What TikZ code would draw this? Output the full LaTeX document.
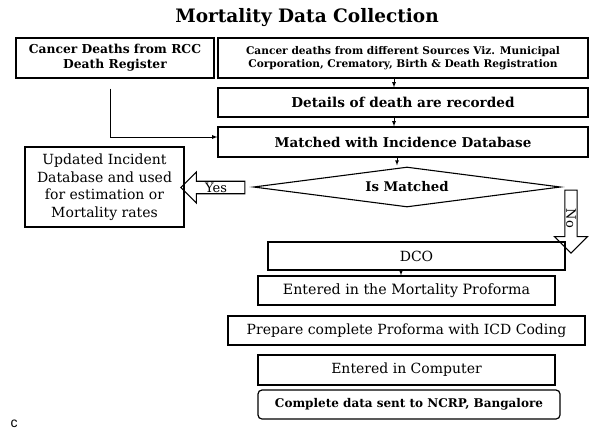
\documentclass[tikz,border=0pt]{standalone}
\usepackage{fontspec}
\setmainfont{DejaVu Serif}
\setsansfont{Liberation Sans}
\usetikzlibrary{shapes.geometric,shapes.arrows}

\tikzset{
  box/.style={draw, line width=1.2pt, inner sep=0pt, align=center},
  rbox/.style={box, rounded corners=4pt},
  decision/.style={draw, diamond, line width=1.1pt, inner sep=0pt, aspect=7.6},
  blockarrow/.style={draw, single arrow, line width=1.1pt, inner sep=0pt,
    single arrow head extend=8pt},
  link/.style={->, >=latex, line width=0.8pt}
}

\begin{document}
\begin{tikzpicture}[x=1pt,y=-1pt]   %% pixel grid of the figure
  \useasboundingbox (0,0) rectangle (589,432);
  \node[font=\bfseries\fontsize{18.5}{19}\selectfont] (title) at (307,18) {Mortality Data Collection};

  \node[box, minimum width=198pt, minimum height=40pt, font=\bfseries\fontsize{12.3}{15}\selectfont]
    (rcc) at (115,58) {Cancer Deaths from RCC\\Death Register};
  \node[box, minimum width=370pt, minimum height=40pt, font=\bfseries\fontsize{10.6}{13.3}\selectfont]
    (sources) at (403,58) {Cancer deaths from different Sources Viz. Municipal\\Corporation, Crematory, Birth \& Death Registration};
  \node[box, minimum width=370pt, minimum height=29pt, font=\bfseries\fontsize{13.6}{15}\selectfont]
    (details) at (403,102.5) {Details of death are recorded};
  \node[box, minimum width=370pt, minimum height=30pt, font=\bfseries\fontsize{13.5}{15}\selectfont]
    (matched) at (403,142) {Matched with Incidence Database};
  \node[decision, minimum width=307pt, minimum height=40pt, font=\bfseries\fontsize{13.3}{15}\selectfont]
    (ismatched) at (407,187) {Is Matched};

  \node[box, minimum width=159pt, minimum height=80pt, font=\fontsize{14}{17.5}\selectfont]
    (incident) at (104.5,187) {Updated Incident\\Database and used\\for estimation or\\Mortality rates};
  \node[blockarrow, shape border rotate=180, minimum height=64pt, minimum width=31pt,
    font=\fontsize{13}{15}\selectfont] (yes) at (216,187.5) {Yes};
  \node[blockarrow, rotate=-90, minimum height=63pt, minimum width=33pt,
    single arrow head extend=9pt, font=\fontsize{13}{15}\selectfont] (no) at (571,218.5) {No};

  \node[box, minimum width=297pt, minimum height=28pt, font=\fontsize{14}{15}\selectfont]
    (dco) at (416.5,256) {DCO};
  \node[box, minimum width=297pt, minimum height=29pt, font=\fontsize{14.2}{15}\selectfont]
    (proforma) at (406.5,290.5) {Entered in the Mortality Proforma};
  \node[box, minimum width=357pt, minimum height=29pt, font=\fontsize{14}{15}\selectfont]
    (icd) at (406.5,330.5) {Prepare complete Proforma with ICD Coding};
  \node[box, minimum width=297pt, minimum height=30pt, font=\fontsize{14}{15}\selectfont]
    (computer) at (406.5,370) {Entered in Computer};
  \node[rbox, minimum width=302pt, minimum height=29pt, font=\bfseries\fontsize{12}{13}\selectfont]
    (ncrp) at (409,404.5) {Complete data sent to NCRP, Bangalore};

  \node[font=\sffamily\fontsize{14}{14}\selectfont] (tag) at (14,424) {c};

  % connectors
  \draw[link] ([xshift=-9pt]sources.south) -- ([xshift=-9pt]details.north);
  \draw[link] ([xshift=-9pt]details.south) -- ([xshift=-9pt]matched.north);
  \draw[link] ([xshift=-6pt]matched.south) -- ([xshift=-10pt,yshift=1pt]ismatched.north);
  \draw[link] ([xshift=-5pt,yshift=-10pt]rcc.south) |- ([yshift=5pt]matched.west);
  \draw[link] ([xshift=-15.5pt]dco.south) -- ([xshift=-5.5pt]proforma.north);
\end{tikzpicture}
\end{document}
